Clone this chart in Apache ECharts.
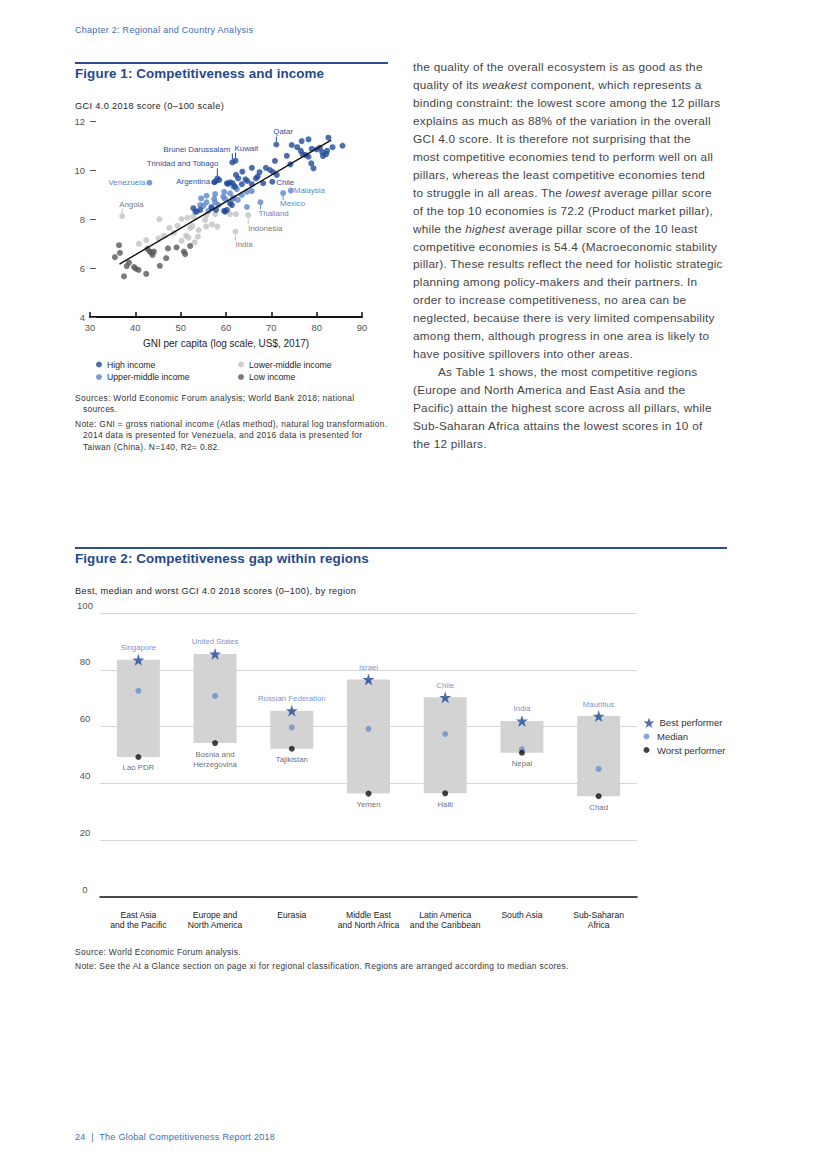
<!DOCTYPE html>
<html><head><meta charset="utf-8">
<script src="https://cdn.jsdelivr.net/npm/echarts@6/dist/echarts.min.js"></script>
<style>
html,body{margin:0;padding:0;background:#fff;}
#page{position:relative;width:827px;height:1169px;overflow:hidden;font-family:"Liberation Sans",Arial,sans-serif;}
#chart{position:absolute;left:0;top:0;width:827px;height:1169px;}
.t{position:absolute;white-space:nowrap;}
.hdr{color:#3d6db2;font-size:9px;letter-spacing:0.28px;line-height:11px;}
.ftitle{color:#26498a;font-size:13.4px;letter-spacing:0.1px;font-weight:bold;line-height:16px;}
.sub{color:#1e1e1e;font-size:9.2px;letter-spacing:0.35px;line-height:11px;}
.note{color:#333;font-size:8.4px;letter-spacing:0.33px;line-height:11px;}
.rule{position:absolute;background:#2c4f8c;}
#body{position:absolute;left:413px;top:59px;font-size:11.8px;letter-spacing:0.24px;line-height:17.95px;color:#444;}
#body div{white-space:nowrap;}
</style>
</head><body>
<div id="page">
<div id="chart"></div>
<div class="t hdr" style="left:75px;top:24.5px;">Chapter 2: Regional and Country Analysis</div>
<div class="rule" style="left:75px;top:62px;width:313px;height:1.5px;"></div>
<div class="t ftitle" style="left:75px;top:66px;">Figure 1: Competitiveness and income</div>
<div class="t sub" style="left:75px;top:100.5px;">GCI 4.0 2018 score (0–100 scale)</div>
<div class="t note" style="left:75px;top:392.5px;">Sources: World Economic Forum analysis; World Bank 2018; national</div>
<div class="t note" style="left:83px;top:403.5px;">sources.</div>
<div class="t note" style="left:75px;top:418.5px;">Note: GNI = gross national income (Atlas method), natural log transformation.</div>
<div class="t note" style="left:83px;top:430px;">2014 data is presented for Venezuela, and 2016 data is presented for</div>
<div class="t note" style="left:83px;top:441.5px;">Taiwan (China). N=140, R2= 0.82.</div>

<div id="body">
<div>the quality of the overall ecosystem is as good as the</div>
<div>quality of its <i>weakest</i> component, which represents a</div>
<div>binding constraint: the lowest score among the 12 pillars</div>
<div>explains as much as 88% of the variation in the overall</div>
<div>GCI 4.0 score. It is therefore not surprising that the</div>
<div>most competitive economies tend to perform well on all</div>
<div>pillars, whereas the least competitive economies tend</div>
<div>to struggle in all areas. The <i>lowest</i> average pillar score</div>
<div>of the top 10 economies is 72.2 (Product market pillar),</div>
<div>while the <i>highest</i> average pillar score of the 10 least</div>
<div>competitive economies is 54.4 (Macroeconomic stability</div>
<div>pillar). These results reflect the need for holistic strategic</div>
<div>planning among policy-makers and their partners. In</div>
<div>order to increase competitiveness, no area can be</div>
<div>neglected, because there is very limited compensability</div>
<div>among them, although progress in one area is likely to</div>
<div>have positive spillovers into other areas.</div>
<div style="padding-left:25px;">As Table 1 shows, the most competitive regions</div>
<div>(Europe and North America and East Asia and the</div>
<div>Pacific) attain the highest score across all pillars, while</div>
<div>Sub-Saharan Africa attains the lowest scores in 10 of</div>
<div>the 12 pillars.</div>
</div>

<div class="rule" style="left:75px;top:547px;width:652px;height:2px;"></div>
<div class="t ftitle" style="left:75px;top:551px;">Figure 2: Competitiveness gap within regions</div>
<div class="t sub" style="left:75px;top:585.5px;">Best, median and worst GCI 4.0 2018 scores (0–100), by region</div>
<div class="t note" style="left:75px;top:947px;">Source: World Economic Forum analysis.</div>
<div class="t note" style="left:75px;top:961px;">Note: See the At a Glance section on page xi for regional classification. Regions are arranged according to median scores.</div>
<div class="t hdr" style="left:75px;top:1131.5px;">24&nbsp; | &nbsp;The Global Competitiveness Report 2018</div>
</div>

<script>
// ---------- Figure 1 data: [GNI per capita axis value, GCI score axis value] ----------
const highIncome = [
 [71.1,11.04],[61.4,10.31],[62.1,10.38],[74.5,11.02],[75.7,10.93],[76.7,11.18],[78.2,11.25],
 [82.6,11.32],[85.7,10.99],[83.5,10.93],[80.7,10.91],[78.9,10.86],[76.5,10.78],[76.9,10.64],
 [77.6,10.61],[78.2,10.54],[80.0,10.84],[81.2,10.73],[82.1,10.65],[82.3,10.78],[81.4,10.57],
 [73.4,10.58],[70.8,10.37],[78.8,10.27],[79.3,10.07],[74.2,10.23],[68.8,10.09],[69.7,10.0],
 [70.4,9.91],[71.2,9.80],[67.4,9.91],[65.7,10.09],[66.6,9.66],[67.0,9.73],[68.2,9.46],
 [70.2,9.52],[63.6,9.93],[62.2,9.80],[62.7,9.66],[64.3,9.62],[64.7,9.55],[60.4,9.43],
 [61.5,9.46],[65.7,9.42],[57.6,9.52],[58.1,9.66],[58.5,9.59],[57.4,9.50],[60.2,9.46],
 [60.9,9.50],[62.0,9.32],[63.5,9.42],[61.3,8.57],[60.9,8.64],[59.8,8.30],[57.8,8.37],
 [52.8,8.44],[53.5,8.30],[54.3,8.37],[56.8,8.46],[59.6,8.33],[60.2,8.37]
];
const upperMiddle = [
 [43.1,9.48],[74.3,9.16],[72.6,9.06],[67.6,8.68],[59.6,9.11],[59.4,8.91],[60.9,9.05],
 [61.6,8.87],[63.5,8.98],[64.6,9.11],[65.7,9.14],[61.6,9.32],[54.5,8.84],[55.7,8.68],
 [54.3,8.57],[55.0,8.53],[57.6,9.02],[59.8,8.82],[57.6,8.68],[58.3,8.57],[56.8,8.50],
 [56.1,8.33],[62.4,9.22],[55.7,8.95],[57.4,8.82],[61.5,8.82],[53.2,8.29],[64.6,8.49],[62.6,8.78]
];
const lowerMiddle = [
 [37.1,8.12],[64.9,8.16],[62.1,7.49],[45.3,7.99],[40.8,6.99],[42.4,7.14],[45.1,7.21],
 [46.3,7.32],[47.5,7.64],[49.3,7.73],[50.2,8.0],[51.5,8.05],[52.8,8.09],[50.2,7.11],
 [51.2,7.32],[51.7,7.24],[52.1,7.64],[52.6,7.71],[53.8,7.28],[53.1,7.05],[55.6,7.69],
 [56.9,7.78],[58.1,7.69],[55.7,8.16],[57.6,8.20],[60.9,8.20],[62.2,8.20],[54.0,7.55],[48.5,7.43],[55.4,7.96]
];
const lowIncome = [
 [36.4,6.93],[36.6,6.62],[35.5,6.44],[38.6,6.22],[38.1,6.08],[39.7,6.04],[40.1,5.97],
 [40.7,5.92],[37.5,5.66],[42.4,5.76],[42.7,6.78],[43.2,6.67],[43.6,6.62],[44.1,6.67],
 [43.8,6.53],[45.4,6.09],[46.8,6.40],[47.2,6.80],[49.1,6.84],[50.7,6.67],[51.0,6.57],[52.1,6.90]
];
const trendLine = [[36.5,6.16],[83.2,11.22]];
// labelled economies: [x, y, name, income group]
const labelled = [
 [71.1,11.04,'Qatar','high'],[61.4,10.31,'Brunei Darussalam','high'],[62.1,10.38,'Kuwait','high'],
 [58.1,9.66,'Trinidad and Tobago','high'],[57.6,9.52,'Argentina','high'],[70.2,9.52,'Chile','high'],
 [43.1,9.48,'Venezuela','upper'],[74.3,9.16,'Malaysia','upper'],[72.6,9.06,'Mexico','upper'],
 [67.6,8.68,'Thailand','upper'],[37.1,8.12,'Angola','lower'],[64.9,8.16,'Indonesia','lower'],[62.1,7.49,'India','lower']
];
const xMin1 = 30, xMax1 = 90, xStep1 = 10;
const yMin1 = 4, yMax1 = 12, yStep1 = 2;

// ---------- Figure 2 data ----------
const regions = ['East Asia\nand the Pacific','Europe and\nNorth America','Eurasia','Middle East\nand North Africa','Latin America\nand the Caribbean','South Asia','Sub-Saharan\nAfrica'];
const bestScores   = [83.5, 85.6, 65.6, 76.6, 70.3, 62.0, 63.7];
const medianScores = [72.6, 70.8, 59.7, 59.2, 57.4, 52.0, 45.1];
const worstScores  = [49.3, 54.2, 52.2, 36.4, 36.5, 50.8, 35.5];
const bestNames  = ['Singapore','United States','Russian Federation','Israel','Chile','India','Mauritius'];
const worstNames = ['Lao PDR','Bosnia and\nHerzegovina','Tajikistan','Yemen','Haiti','Nepal','Chad'];
const yMin2 = 0, yMax2 = 100, yStep2 = 20;

// ---------- styles ----------
const C = {high:'#1f4a97', upper:'#5b86cb', lower:'#c2c2c2', low:'#595959'};
const labelCol = {high:'#2a519a', upper:'#5b86cb', lower:'#7a7a7a'};
const labelPos = {
 'Qatar':{dx:-3,dy:-13,align:'left',line:[-3,-8]},
 'Brunei Darussalam':{dx:-2,dy:-13,align:'right',line:[-3,-9]},
 'Kuwait':{dx:-1,dy:-11.7,align:'left',line:[-3,-8]},
 'Trinidad and Tobago':{dx:1,dy:-15,align:'right',line:[-3,-10]},
 'Argentina':{dx:-5,dy:0,align:'right'},
 'Chile':{dx:4,dy:0.3,align:'left'},
 'Venezuela':{dx:-4,dy:0,align:'right'},
 'Malaysia':{dx:3,dy:0,align:'left'},
 'Mexico':{dx:-3,dy:10.5,align:'left',line:[3,7]},
 'Thailand':{dx:-2,dy:11,align:'left',line:[3,7]},
 'Indonesia':{dx:0,dy:13,align:'left',line:[3,9]},
 'India':{dx:0,dy:13,align:'left',line:[3,9]},
 'Angola':{dx:-3,dy:-12,align:'left',line:[-3,-8]}
};
const FONT = '"Liberation Sans", Arial, sans-serif';
const starPath = 'path://M12,0 L14.8,8.6 L23.8,8.6 L16.5,13.9 L19.3,22.5 L12,17.2 L4.7,22.5 L7.5,13.9 L0.2,8.6 L9.2,8.6 Z';

const chart = echarts.init(document.getElementById('chart'), null, {renderer:'svg'});
const option = {
 animation:false,
 textStyle:{fontFamily:FONT},
 grid:[
  {left:90, top:121, width:272, height:196},
  {left:100, top:613, width:537, height:284}
 ],
 legend:[
  {data:['High income','Upper-middle income'], orient:'vertical', left:91, top:355, itemWidth:6, itemHeight:6, itemGap:3.5, icon:'circle', textStyle:{fontSize:8.7,color:'#1e1e1e',fontFamily:FONT}, selectedMode:false},
  {data:['Lower-middle income','Low income'], orient:'vertical', left:233, top:355, itemWidth:6, itemHeight:6, itemGap:3.5, icon:'circle', textStyle:{fontSize:8.7,color:'#1e1e1e',fontFamily:FONT}, selectedMode:false},
  {data:['Best performer'], left:638.5, top:712.5, itemWidth:11, itemHeight:11, textStyle:{fontSize:9.5,color:'#333',fontFamily:FONT}, selectedMode:false},
  {data:['Median'], left:638.5, top:726.5, itemWidth:11, itemHeight:6, icon:'circle', textStyle:{fontSize:9.5,color:'#333',fontFamily:FONT}, selectedMode:false},
  {data:['Worst performer'], left:638.5, top:740, itemWidth:11, itemHeight:6, icon:'circle', textStyle:{fontSize:9.5,color:'#333',fontFamily:FONT}, selectedMode:false}
 ],
 xAxis:[
  {gridIndex:0, type:'value', min:xMin1, max:xMax1, interval:xStep1,
   axisLine:{show:true, lineStyle:{color:'#111', width:2}},
   axisTick:{show:true, inside:true, length:5, lineStyle:{color:'#111', width:1.5}},
   axisLabel:{color:'#555', fontSize:9.5, margin:5, fontFamily:FONT},
   splitLine:{show:false},
   name:'GNI per capita (log scale, US$, 2017)', nameLocation:'middle', nameGap:21,
   nameTextStyle:{color:'#1e1e1e', fontSize:10, fontFamily:FONT}},
  {gridIndex:1, type:'category', data:regions,
   axisLine:{show:true, lineStyle:{color:'#111', width:1.5}},
   axisTick:{show:false},
   axisLabel:{interval:0, color:'#222', fontSize:8.6, lineHeight:10, margin:13, fontFamily:FONT}}
 ],
 yAxis:[
  {gridIndex:0, type:'value', min:yMin1, max:yMax1, interval:yStep1,
   axisLine:{show:false},
   axisTick:{show:true, inside:true, length:6, lineStyle:{color:'#555', width:1}},
   axisLabel:{color:'#555', fontSize:9.5, margin:5, fontFamily:FONT},
   splitLine:{show:false}},
  {gridIndex:1, type:'value', min:yMin2, max:yMax2, interval:yStep2,
   axisLine:{show:false}, axisTick:{show:false},
   axisLabel:{color:'#555', fontSize:9.5, margin:15, align:'center', verticalAlign:'bottom', padding:[0,0,3,0], fontFamily:FONT},
   splitLine:{show:true, lineStyle:{color:'#d6d6d6', width:1}}}
 ],
 series:[
  {name:'Low income', type:'scatter', xAxisIndex:0, yAxisIndex:0, data:lowIncome, symbolSize:6, itemStyle:{color:C.low}},
  {name:'Lower-middle income', type:'scatter', xAxisIndex:0, yAxisIndex:0, data:lowerMiddle, symbolSize:6, itemStyle:{color:C.lower}},
  {name:'Upper-middle income', type:'scatter', xAxisIndex:0, yAxisIndex:0, data:upperMiddle, symbolSize:6, itemStyle:{color:C.upper}},
  {name:'High income', type:'scatter', xAxisIndex:0, yAxisIndex:0, data:highIncome, symbolSize:6, itemStyle:{color:C.high}},
  {type:'line', xAxisIndex:0, yAxisIndex:0, data:trendLine, symbol:'none', z:5, lineStyle:{color:'#111', width:1.4}},
  {type:'custom', xAxisIndex:0, yAxisIndex:0, z:6, data:labelled.map(d=>[d[0],d[1]]),
   renderItem:function(params, api){
     const d = labelled[params.dataIndex];
     const p = api.coord([api.value(0), api.value(1)]);
     const s = labelPos[d[2]];
     const col = labelCol[d[3]];
     const lineCol = C[d[3]];
     const children = [];
     if (s.line) children.push({type:'line', shape:{x1:p[0], y1:p[1]+s.line[0], x2:p[0], y2:p[1]+s.line[1]}, style:{stroke:lineCol, lineWidth:1}});
     children.push({type:'text', x:p[0]+s.dx, y:p[1]+s.dy, style:{text:d[2], fill:col, fontSize:7.9, fontFamily:FONT, align:s.align, verticalAlign:'middle'}});
     return {type:'group', children:children};
   }},
  // Figure 2
  {type:'custom', xAxisIndex:1, yAxisIndex:1, z:1, data:regions.map((r,i)=>[i, bestScores[i], worstScores[i]]),
   renderItem:function(params, api){
     const top = api.coord([api.value(0), api.value(1)]);
     const bot = api.coord([api.value(0), api.value(2)]);
     const w = api.size([1,0])[0]*0.56;
     return {type:'rect', shape:{x:top[0]-w/2, y:top[1], width:w, height:bot[1]-top[1]}, style:{fill:'#d3d3d3'}};
   }},
  {name:'Median', type:'scatter', xAxisIndex:1, yAxisIndex:1, z:3, data:medianScores, symbolSize:6, itemStyle:{color:'#6a8fd0'}},
  {name:'Worst performer', type:'scatter', xAxisIndex:1, yAxisIndex:1, z:4, data:worstScores, symbolSize:6, itemStyle:{color:'#111'},
   label:{show:true, position:'bottom', distance:3, formatter:p=>worstNames[p.dataIndex], color:'#444', fontSize:7.8, lineHeight:10, fontFamily:FONT}},
  {name:'Best performer', type:'scatter', xAxisIndex:1, yAxisIndex:1, z:5, data:bestScores, symbol:starPath, symbolSize:12, itemStyle:{color:'#1f4a97'},
   label:{show:true, position:'top', distance:2, formatter:p=>bestNames[p.dataIndex], color:'#4a78c2', fontSize:7.8, fontFamily:FONT}}
 ]
};
chart.setOption(option);
</script>
</body></html>
